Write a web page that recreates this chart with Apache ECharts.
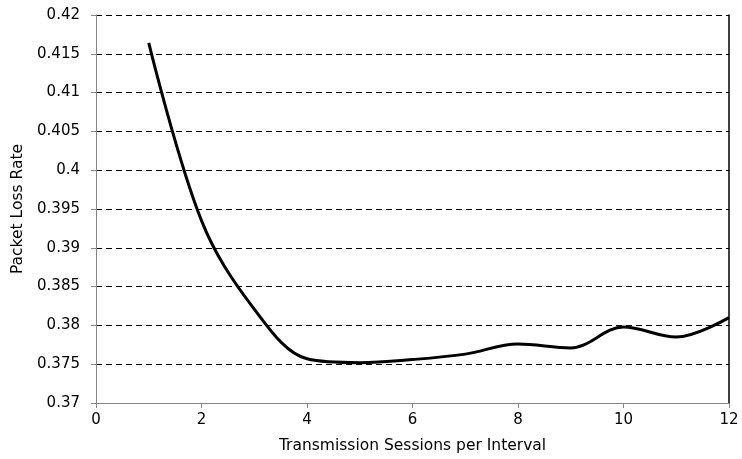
<!DOCTYPE html>
<html>
<head>
<meta charset="utf-8">
<script src="https://cdn.jsdelivr.net/npm/echarts@6/dist/echarts.min.js"></script>
<style>html,body{margin:0;padding:0;background:#fff;}#c{width:742px;height:459px;}</style>
</head>
<body>
<div id="c"></div>
<script>
var sessions = [1, 2, 3, 4, 5, 6, 7, 8, 9, 10, 11, 12];
var lossRate = [0.4164, 0.3935, 0.3821, 0.3757, 0.3752, 0.3756, 0.3763, 0.3776, 0.3771, 0.3798, 0.3785, 0.3810];
var xTicks = [0, 2, 4, 6, 8, 10, 12];
var yTicks = [0.37, 0.375, 0.38, 0.385, 0.39, 0.395, 0.4, 0.405, 0.41, 0.415, 0.42];

var font = '"DejaVu Sans", "Liberation Sans", Arial, sans-serif';
var chart = echarts.init(document.getElementById('c'));
chart.setOption({
  animation: false,
  backgroundColor: '#fff',
  grid: { left: 96, right: 13, top: 15, bottom: 56, containLabel: false },
  xAxis: {
    type: 'value', min: 0, max: 12, interval: 2,
    name: 'Transmission Sessions per Interval', nameLocation: 'middle', nameGap: 35,
    nameTextStyle: { fontFamily: font, fontSize: 15.5, color: '#000' },
    axisLine: { lineStyle: { color: '#868686', width: 1 } },
    axisTick: { show: true, length: 5, lineStyle: { color: '#868686' } },
    axisLabel: { fontFamily: font, fontSize: 15, color: '#000', margin: 10,
      formatter: function (v) { return xTicks.indexOf(v) >= 0 ? String(v) : ''; } },
    splitLine: { show: false }
  },
  yAxis: [{
    type: 'value', min: 0.37, max: 0.42, interval: 0.005,
    name: 'Packet Loss Rate', nameLocation: 'middle', nameGap: 70, nameRotate: 90,
    nameTextStyle: { fontFamily: font, fontSize: 15.5, color: '#000' },
    axisLine: { show: true, lineStyle: { color: '#868686', width: 1 } },
    axisTick: { show: true, length: 5, lineStyle: { color: '#868686' } },
    axisLabel: { fontFamily: font, fontSize: 15, color: '#000', margin: 16,
      formatter: function (v) {
        var r = Math.round(v * 1000) / 1000;
        for (var i = 0; i < yTicks.length; i++) { if (Math.abs(yTicks[i] - r) < 1e-9) return String(yTicks[i]); }
        return '';
      } },
    splitLine: { show: true, lineStyle: { color: '#000', type: [6, 4], width: 1 } }
  }, {
    type: 'value', min: 0.37, max: 0.42, position: 'right',
    axisLine: { show: true, onZero: false, lineStyle: { color: '#000', width: 1.5 } },
    axisTick: { show: false }, axisLabel: { show: false }, splitLine: { show: false }
  }],
  series: [{
    type: 'line', smooth: 0.35, symbol: 'none', yAxisIndex: 0,
    lineStyle: { color: '#000', width: 3 },
    data: sessions.map(function (s, i) { return [s, lossRate[i]]; })
  }]
});
</script>
</body>
</html>
